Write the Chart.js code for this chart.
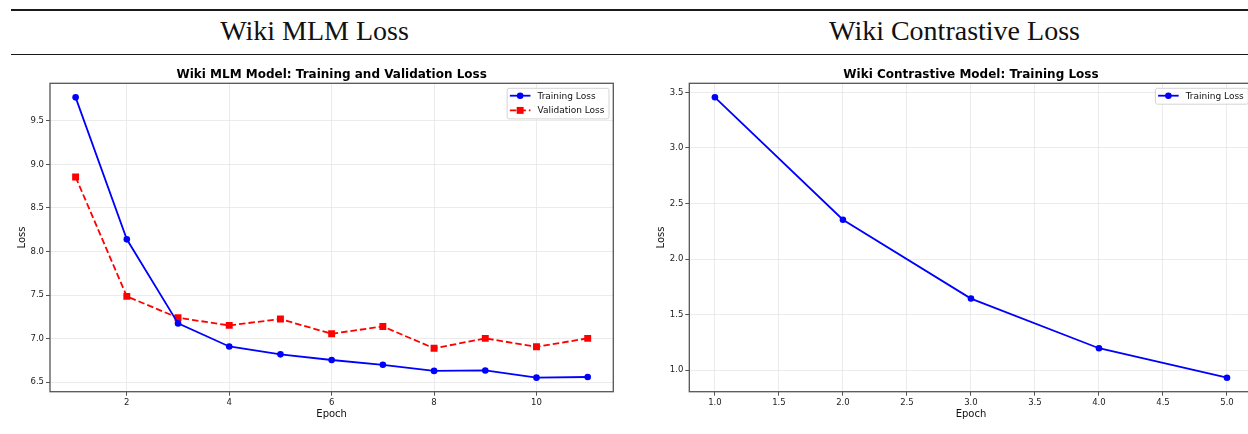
<!DOCTYPE html>
<html>
<head>
<meta charset="utf-8">
<script src="https://cdn.jsdelivr.net/npm/chart.js@4.4.0/dist/chart.umd.min.js"></script>
<style>
  html, body { margin: 0; padding: 0; background: #fff; }
  body { position: relative; width: 1248px; height: 434px; overflow: hidden; }
  .rule { position: absolute; left: 11px; width: 1260px; background: #1a1a1a; }
  .head { position: absolute; top: 16.6px; font: 28px/28px "Liberation Serif", serif; color: #111;
          transform: translateX(-50%); white-space: nowrap; }
  canvas { position: absolute; top: 56px; }
</style>
</head>
<body>
<div class="rule" style="top:8.5px;height:2px"></div>
<div class="rule" style="top:53.5px;height:1.5px"></div>
<div class="head" style="left:314.5px">Wiki MLM Loss</div>
<div class="head" style="left:954.5px">Wiki Contrastive Loss</div>
<canvas id="mlm" width="624" height="378" style="left:0;width:624px;height:378px"></canvas>
<canvas id="con" width="640" height="378" style="left:624px;width:640px;height:378px"></canvas>
<script>
// values
const mlmEpochs = [1, 2, 3, 4, 5, 6, 7, 8, 9, 10, 11];
const mlmTrain = [9.77, 8.14, 7.175, 6.91, 6.82, 6.755, 6.70, 6.63, 6.635, 6.552, 6.56];
const mlmVal = [8.855, 7.485, 7.24, 7.152, 7.225, 7.056, 7.14, 6.889, 7.003, 6.907, 7.003];
const mlmXTicks = [2, 4, 6, 8, 10];
const mlmYTicks = [6.5, 7.0, 7.5, 8.0, 8.5, 9.0, 9.5];

const conEpochs = [1, 2, 3, 4, 5];
const conTrain = [3.455, 2.353, 1.644, 1.197, 0.932];
const conXTicks = [1.0, 1.5, 2.0, 2.5, 3.0, 3.5, 4.0, 4.5, 5.0];
const conYTicks = [1.0, 1.5, 2.0, 2.5, 3.0, 3.5];

Chart.defaults.font.family = '"DejaVu Sans", sans-serif';
Chart.defaults.color = '#222';

const pts = (xs, ys) => xs.map((x, i) => ({x: x, y: ys[i]}));

// spines on all four sides, drawn above the lines like matplotlib
const frame = {
    id: 'frame',
    afterDatasetsDraw(chart) {
        const {ctx, chartArea: a} = chart;
        ctx.save();
        ctx.strokeStyle = '#555';
        ctx.lineWidth = 1.3;
        ctx.strokeRect(a.left, a.top, a.right - a.left, a.bottom - a.top);
        ctx.restore();
    }
};

// matplotlib style legend box in the upper right of the plot
const boxLegend = {
    id: 'boxLegend',
    afterDatasetsDraw(chart) {
        const {ctx, chartArea: a} = chart;
        const sets = chart.data.datasets;
        ctx.save();
        ctx.font = '9px "DejaVu Sans"';
        const tw = Math.max(...sets.map(d => ctx.measureText(d.label).width));
        const w = 2.7 + 20.6 + 7 + tw + 4.5;
        const h = 14.7 * sets.length + 1.2;
        const x = a.right - 4.3 - w, y = a.top + 5;
        ctx.beginPath();
        ctx.roundRect(x, y, w, h, 2);
        ctx.fillStyle = 'rgba(255,255,255,0.85)';
        ctx.fill();
        ctx.strokeStyle = '#d4d4d4';
        ctx.lineWidth = 1;
        ctx.stroke();
        sets.forEach((d, i) => {
            const cy = y + 7.4 + i * 14.7;
            ctx.beginPath();
            ctx.setLineDash(d.borderDash || []);
            ctx.moveTo(x + 2.7, cy);
            ctx.lineTo(x + 23.3, cy);
            ctx.strokeStyle = d.borderColor;
            ctx.lineWidth = d.borderWidth;
            ctx.stroke();
            ctx.setLineDash([]);
            ctx.fillStyle = d.borderColor;
            ctx.beginPath();
            if (d.pointStyle === 'rect') {
                const s = d.pointRadius * Math.SQRT1_2;
                ctx.rect(x + 13 - s, cy - s, 2 * s, 2 * s);
            } else {
                ctx.arc(x + 13, cy, d.pointRadius, 0, Math.PI * 2);
            }
            ctx.fill();
            ctx.fillStyle = '#111';
            ctx.textBaseline = 'middle';
            ctx.fillText(d.label, x + 30.3, cy + 0.5);
        });
        ctx.restore();
    }
};

function axis(min, max, ticks, fmt, size, title, titlePad) {
    return {
        type: 'linear',
        min: min,
        max: max,
        afterBuildTicks: s => { s.ticks = ticks.map(v => ({value: v})); },
        afterFit: s => { if (s.isHorizontal()) s.height = size; else s.width = size; },
        ticks: {
            font: {size: 8.5},
            color: '#222',
            padding: 2,
            callback: v => fmt(v)
        },
        grid: {color: '#e6e6e6', lineWidth: 0.8, drawTicks: true, tickLength: 4, tickColor: '#555', tickWidth: 1},
        border: {display: false},
        title: {display: true, text: title, font: {size: 10}, color: '#111', padding: titlePad}
    };
}

function makeChart(id, datasets, opts) {
    return new Chart(document.getElementById(id), {
        type: 'line',
        data: {datasets: datasets},
        options: {
            responsive: false,
            animation: false,
            layout: {padding: {left: 0, right: opts.padRight, top: 0, bottom: 0}},
            plugins: {
                legend: {display: false},
                tooltip: {enabled: false},
                title: {
                    display: true,
                    fullSize: false,
                    text: opts.title,
                    color: '#000',
                    font: {size: 12, weight: 'bold'},
                    padding: {top: 11.4, bottom: 1.5}
                }
            },
            scales: {x: opts.x, y: opts.y}
        },
        plugins: [frame, boxLegend]
    });
}

const line = (label, color, values, xs, style, radius, dash) => ({
    label: label,
    data: pts(xs, values),
    borderColor: color,
    backgroundColor: color,
    borderWidth: 1.8,
    borderDash: dash,
    pointStyle: style,
    pointRadius: radius,
    pointBorderWidth: 0,
    pointBackgroundColor: color,
    tension: 0
});

makeChart('mlm', [
    line('Training Loss', '#0000ff', mlmTrain, mlmEpochs, 'circle', 3.3, []),
    line('Validation Loss', '#ff0000', mlmVal, mlmEpochs, 'rect', 4.9, [6.5, 3])
], {
    title: 'Wiki MLM Model: Training and Validation Loss',
    padRight: 10.7,
    x: axis(0.5, 11.5, mlmXTicks, v => String(v), 42.3, 'Epoch', {top: 0, bottom: 14}),
    y: axis(6.391, 9.931, mlmYTicks, v => v.toFixed(1), 50, 'Loss', {top: 16, bottom: 0})
});

makeChart('con', [
    line('Training Loss', '#0000ff', conTrain, conEpochs, 'circle', 3.3, [])
], {
    title: 'Wiki Contrastive Model: Training Loss',
    padRight: 11.4,
    x: axis(0.8, 5.2, conXTicks, v => v.toFixed(1), 42.3, 'Epoch', {top: 0, bottom: 14}),
    y: axis(0.806, 3.581, conYTicks, v => v.toFixed(1), 65.3, 'Loss', {top: 31, bottom: 0})
});
</script>
</body>
</html>
